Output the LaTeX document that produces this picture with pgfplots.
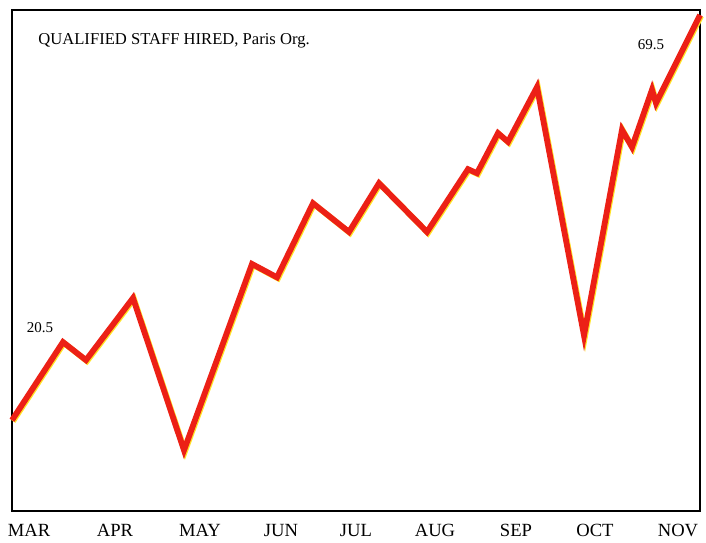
\documentclass[border=0pt]{standalone}
\usepackage{pgfplots}
\pgfplotsset{compat=1.18}
\usepackage{fontspec}
\setmainfont{Liberation Serif}
\definecolor{lred}{RGB}{236,32,22}
\definecolor{lyel}{RGB}{255,228,40}
\begin{document}
\begin{tikzpicture}
\begin{axis}[
  scale only axis,
  width=344pt, height=250.5pt,
  xmin=12, xmax=700, ymin=-4.8, ymax=70.25,
  axis line style={black, line width=1pt},
  ytick=\empty,
  xtick={29,115,200,281,356,435,516,595,678},
  xticklabels={MAR,APR,MAY,JUN,JUL,AUG,SEP,OCT,NOV},
  major tick length=0pt,
  xticklabel style={font=\fontsize{9.3}{10}\selectfont, anchor=north, yshift=-3pt},
  clip=false,
]
\coordinate (bl) at (rel axis cs:0,0);
\coordinate (tr) at (rel axis cs:1,1);
\addplot[lyel, line width=2.9pt, line join=miter, xshift=0.5pt, yshift=-0.5pt] coordinates {
(12,8.8) (63,20.5) (86,17.8) (133,27.1) (184,4.3) (252,32.2) (277,30.2)
(313,41.3) (349,37.0) (379,44.3) (427,37.0) (468,46.4) (477,45.8)
(498,51.8) (508,50.5) (537,58.7) (584,21.5) (622,52.3) (632,49.7)
(652,58.3) (656,56.3) (700,69.5)
};
\addplot[lred, line width=2.9pt, line join=miter] coordinates {
(12,8.8) (63,20.5) (86,17.8) (133,27.1) (184,4.3) (252,32.2) (277,30.2)
(313,41.3) (349,37.0) (379,44.3) (427,37.0) (468,46.4) (477,45.8)
(498,51.8) (508,50.5) (537,58.7) (584,21.5) (622,52.3) (632,49.7)
(652,58.3) (656,56.3) (700,69.5)
};
\node[anchor=west, inner sep=0pt, font=\fontsize{8.3}{9}\selectfont] at (axis cs:38,65.6) {QUALIFIED STAFF HIRED, Paris Org.};
\node[inner sep=0pt, font=\fontsize{7.5}{8}\selectfont] at (axis cs:40,22.6) {20.5};
\node[inner sep=0pt, font=\fontsize{7.5}{8}\selectfont] at (axis cs:651,65.0) {69.5};
\end{axis}
\pgfresetboundingbox
\path[use as bounding box] ([shift={(-6pt,-16pt)}]bl) rectangle ([shift={(3pt,5pt)}]tr);
\end{tikzpicture}
\end{document}
